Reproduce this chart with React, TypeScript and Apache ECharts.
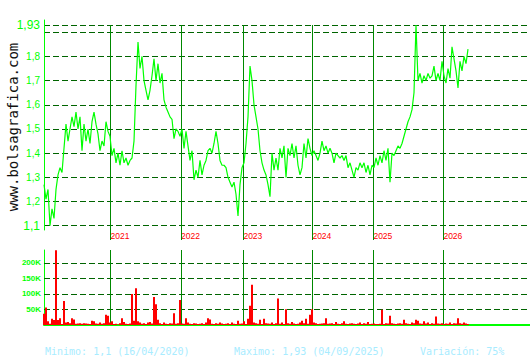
import React, { useEffect, useRef } from 'react';
import * as echarts from 'echarts';

// Closing price, one point per sampled trading period (left to right)
const prices: number[] = [
  1.27, 1.21, 1.25, 1.10, 1.17, 1.13, 1.25, 1.31, 1.34, 1.32,
  1.42, 1.52, 1.45, 1.50, 1.55, 1.51, 1.57, 1.50, 1.55, 1.41,
  1.52, 1.45, 1.50, 1.44, 1.53, 1.57, 1.52, 1.48, 1.41, 1.45,
  1.43, 1.53, 1.49, 1.47, 1.39, 1.42, 1.36, 1.40, 1.35, 1.41,
  1.36, 1.38, 1.35, 1.37, 1.38, 1.45, 1.68, 1.86, 1.75, 1.80,
  1.70, 1.66, 1.62, 1.66, 1.72, 1.79, 1.70, 1.77, 1.69, 1.73,
  1.62, 1.59, 1.57, 1.55, 1.54, 1.46, 1.50, 1.49, 1.47, 1.50,
  1.42, 1.49, 1.43, 1.37, 1.41, 1.29, 1.33, 1.30, 1.37, 1.31,
  1.35, 1.37, 1.41, 1.42, 1.40, 1.44, 1.49, 1.44, 1.37, 1.35,
  1.35, 1.34, 1.30, 1.28, 1.26, 1.28, 1.23, 1.14, 1.27, 1.34,
  1.36, 1.44, 1.55, 1.76, 1.70, 1.60, 1.55, 1.50, 1.41, 1.36,
  1.33, 1.31, 1.27, 1.22, 1.40, 1.33, 1.38, 1.33, 1.42, 1.38,
  1.43, 1.30, 1.42, 1.39, 1.44, 1.38, 1.43, 1.35, 1.31, 1.34,
  1.44, 1.38, 1.46, 1.42, 1.39, 1.41, 1.39, 1.37, 1.40, 1.45,
  1.41, 1.43, 1.40, 1.42, 1.40, 1.36, 1.40, 1.39, 1.38, 1.39,
  1.37, 1.39, 1.34, 1.36, 1.33, 1.30, 1.34, 1.33, 1.36, 1.34,
  1.36, 1.32, 1.35, 1.31, 1.35, 1.34, 1.38, 1.35, 1.39, 1.36,
  1.41, 1.37, 1.42, 1.28, 1.40, 1.39, 1.41, 1.43, 1.42, 1.44,
  1.47, 1.50, 1.53, 1.55, 1.58, 1.65, 1.93, 1.70, 1.73, 1.69,
  1.72, 1.70, 1.73, 1.71, 1.72, 1.76, 1.70, 1.73, 1.70, 1.78,
  1.72, 1.69, 1.75, 1.71, 1.84, 1.79, 1.74, 1.67, 1.78, 1.74,
  1.80, 1.77, 1.83,
];

// Volume in thousands, same periods as prices
const volumesK: number[] = [
  36, 56, 12, 4, 20, 16, 240, 16, 22, 3,
  77, 8, 10, 6, 22, 18, 4, 5, 6, 4,
  6, 5, 4, 3, 14, 12, 5, 4, 8, 4,
  6, 33, 30, 8, 12, 3, 4, 2, 6, 22,
  10, 4, 3, 5, 100, 14, 118, 12, 8, 4,
  6, 3, 8, 10, 5, 90, 67, 17, 6, 3,
  8, 4, 3, 6, 5, 38, 4, 6, 80, 5,
  4, 22, 8, 4, 3, 6, 5, 3, 4, 6,
  3, 8, 22, 18, 4, 3, 6, 4, 8, 5,
  3, 4, 6, 3, 8, 4, 3, 14, 4, 5,
  12, 3, 20, 62, 129, 8, 6, 4, 17, 3,
  20, 6, 5, 4, 8, 3, 6, 85, 4, 8,
  3, 51, 6, 4, 10, 5, 3, 4, 8, 14,
  6, 20, 4, 33, 51, 8, 6, 3, 4, 5,
  6, 22, 4, 5, 6, 3, 10, 4, 3, 6,
  12, 4, 3, 5, 6, 4, 3, 5, 8, 3,
  6, 4, 10, 3, 4, 5, 3, 3, 4, 49,
  3, 6, 5, 30, 6, 4, 3, 5, 6, 4,
  17, 6, 4, 3, 8, 6, 17, 14, 5, 4,
  12, 5, 8, 3, 6, 4, 27, 5, 4, 6,
  3, 5, 4, 8, 3, 6, 5, 22, 6, 4,
  8, 5, 3,
];

// Position (in periods) where each year begins
const yearStarts: number[] = [33.3, 68.5, 99.7, 134.2, 164.7, 199.7];
const yearLabels: string[] = ['2021', '2022', '2023', '2024', '2025', '2026'];

const priceMin = 1.1;
const priceMax = 1.93;
const priceStep = 0.1;
const hiddenPriceLabels: number[] = [1.9];
const volumeGridK: number[] = [50, 100, 150, 200];
const volumeMaxK = 241;
const periodSpan = 243;

const footerMin = 'Minimo: 1,1 (16/04/2020)';
const footerMax = 'Maximo: 1,93 (04/09/2025)';
const footerVar = 'Variación: 75%';
const watermark = 'www.bolsagrafica.com';

const LIME = '#00ff00';
const GRID_GREEN = '#006400';
const YEAR_GREEN = '#008800';

export default function App() {
  const ref = useRef<HTMLDivElement>(null);

  useEffect(() => {
    if (!ref.current) return;
    const chart = echarts.init(ref.current, undefined, { renderer: 'svg' });

    const dashed = { color: GRID_GREEN, type: [6, 3] as any, width: 1 };

    const option: any = {
      animation: false,
      backgroundColor: '#ffffff',
      grid: [
        { left: 44, right: 0, top: 25, height: 200.7 },
        { left: 44, right: 0, top: 25, height: 215 },
        { left: 44, right: 0, top: 250, height: 75 },
        { left: 44, right: 0, top: 20, height: 210 },
      ],
      xAxis: [
        { type: 'value', gridIndex: 0, min: 0, max: periodSpan, show: false },
        {
          type: 'value', gridIndex: 1, min: 0, max: periodSpan,
          axisLine: { show: false }, axisTick: { show: false }, splitLine: { show: false },
          axisLabel: {
            show: true,
            customValues: yearStarts,
            inside: true,
            margin: 0,
            align: 'left',
            verticalAlign: 'bottom',
            color: '#ff0000',
            fontSize: 8.5,
            fontFamily: 'Liberation Sans',
            formatter: (v: number) => {
              const k = yearStarts.findIndex((y) => Math.abs(y - v) < 1e-6);
              return k >= 0 ? yearLabels[k] : '';
            },
          },
        },
        {
          type: 'value', gridIndex: 2, min: 0, max: periodSpan,
          axisLine: { show: true, onZero: false, lineStyle: { color: LIME, width: 2 } },
          axisTick: { show: false }, axisLabel: { show: false }, splitLine: { show: false },
        },
        { type: 'value', gridIndex: 3, min: 0, max: periodSpan, show: false },
      ],
      yAxis: [
        {
          type: 'value', gridIndex: 0, min: priceMin, max: priceMax, interval: priceStep,
          axisLine: { show: false }, axisTick: { show: false },
          splitLine: { show: true, lineStyle: dashed },
          axisLabel: {
            margin: 4,
            color: LIME,
            showMinLabel: true,
            showMaxLabel: true,
            hideOverlap: false,
            formatter: (v: number) => {
              if (hiddenPriceLabels.some((h) => Math.abs(h - v) < 1e-6)) return '';
              const s = String(+v.toFixed(2)).replace('.', ',');
              const big = Math.abs(v - priceMin) < 1e-6 || Math.abs(v - priceMax) < 1e-6;
              return big ? `{b|${s}}` : `{n|${s}}`;
            },
            rich: {
              b: { fontSize: 12, fontFamily: 'Liberation Sans', color: LIME },
              n: { fontSize: 10, fontFamily: 'Liberation Sans', color: LIME },
            },
          },
        },
        { type: 'value', gridIndex: 1, min: 0, max: 1, show: false },
        {
          type: 'value', gridIndex: 2, min: 0, max: volumeMaxK * 1000, interval: 50000,
          axisLine: { show: true, lineStyle: { color: LIME, width: 1 } },
          axisTick: { show: false }, splitLine: { show: false },
          axisLabel: {
            margin: 3,
            color: LIME,
            fontSize: 8,
            fontWeight: 'bold',
            fontFamily: 'Liberation Sans',
            formatter: (v: number) =>
              volumeGridK.some((k) => k * 1000 === v) ? `${v / 1000}K` : '',
          },
        },
        {
          type: 'value', gridIndex: 3, min: 0, max: 1,
          axisLine: { show: true, lineStyle: { color: LIME, width: 1 } },
          axisTick: { show: false }, axisLabel: { show: false }, splitLine: { show: false },
        },
      ],
      series: [
        {
          type: 'line',
          xAxisIndex: 1, yAxisIndex: 1,
          data: [[0, 0]],
          showSymbol: false,
          lineStyle: { opacity: 0 },
          silent: true,
          markLine: {
            symbol: 'none', silent: true,
            label: { show: false },
            lineStyle: { color: YEAR_GREEN, type: 'solid', width: 1 },
            data: yearStarts.map((x) => ({ xAxis: x })),
          },
        },
        {
          type: 'line',
          xAxisIndex: 0, yAxisIndex: 0,
          data: prices.map((p, i) => [i, p]),
          showSymbol: false,
          lineStyle: { color: LIME, width: 1.2 },
          z: 5,
        },
        {
          type: 'bar',
          xAxisIndex: 2, yAxisIndex: 2,
          data: volumesK.map((v, i) => [i, v * 1000]),
          barWidth: 2,
          itemStyle: { color: '#ff0000' },
          z: 5,
          markLine: {
            symbol: 'none', silent: true,
            label: { show: false },
            data: [
              ...volumeGridK.map((k) => ({ yAxis: k * 1000, lineStyle: dashed })),
              ...yearStarts.map((x) => ({
                xAxis: x,
                lineStyle: { color: YEAR_GREEN, type: 'solid', width: 1 },
              })),
            ],
          },
        },
      ],
      graphic: [
        {
          type: 'text', x: 13, y: 127, rotation: Math.PI / 2,
          style: {
            text: watermark, fill: '#111111', fontSize: 14,
            fontFamily: 'DejaVu Sans Mono', align: 'center', verticalAlign: 'middle',
          },
        },
        {
          type: 'text', x: 45, y: 351,
          style: { text: footerMin, fill: '#a8ecff', fontSize: 10, fontFamily: 'DejaVu Sans Mono', verticalAlign: 'middle' },
        },
        {
          type: 'text', x: 234, y: 351,
          style: { text: footerMax, fill: '#a8ecff', fontSize: 10, fontFamily: 'DejaVu Sans Mono', verticalAlign: 'middle' },
        },
        {
          type: 'text', x: 420, y: 351,
          style: { text: footerVar, fill: '#a8ecff', fontSize: 10, fontFamily: 'DejaVu Sans Mono', verticalAlign: 'middle' },
        },
      ],
    };

    chart.setOption(option);
    return () => chart.dispose();
  }, []);

  return (
    <div
      ref={ref}
      style={{ position: 'fixed', left: 0, top: 0, width: 530, height: 360, background: '#fff' }}
    />
  );
}
